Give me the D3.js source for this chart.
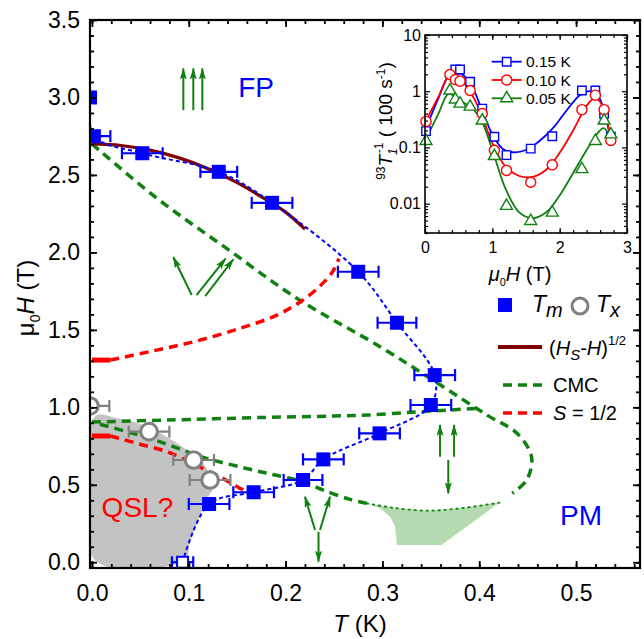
<!DOCTYPE html>
<html>
<head>
<meta charset="utf-8">
<script src="https://cdn.jsdelivr.net/npm/d3@7"></script>
<style>
  body { margin: 0; background: #fff; }
  svg text { font-family: "Liberation Sans", Arial, sans-serif; }
  .tick line { stroke: #000; stroke-width: 1.8; }
  .inset .tick line { stroke-width: 1.2; }
</style>
</head>
<body>
<svg id="chart" width="644" height="639"></svg>
<script>
// ---- main panel data (T in K, mu0H in T) ----
var tmT   = [-0.002, 0.002, 0.052, 0.131, 0.186, 0.275, 0.315, 0.354, 0.350, 0.297, 0.239, 0.218, 0.167, 0.121];
var tmH   = [3.00, 2.75, 2.64, 2.52, 2.32, 1.875, 1.546, 1.208, 1.015, 0.832, 0.664, 0.531, 0.452, 0.376];
var tmErr = [0, 0.017, 0.021, 0.019, 0.021, 0.021, 0.020, 0.021, 0.021, 0.021, 0.021, 0.020, 0.021, 0.021];
var tm0T = [0.0936], tm0H = [0.0], tm0Err = [0.011];   // open square, zero field

var txT   = [-0.002, 0.059, 0.105, 0.122];
var txH   = [1.009, 0.843, 0.660, 0.531];
var txErr = [0.020, 0.021, 0.021, 0.021];

var sqrtT = [0.000, 0.030, 0.060, 0.090, 0.120, 0.150, 0.180, 0.200, 0.220];
var sqrtH = [2.700, 2.690, 2.660, 2.610, 2.540, 2.450, 2.340, 2.260, 2.150];

var cmcUpT = [0.000, 0.067, 0.139, 0.215, 0.298, 0.360, 0.408, 0.439, 0.454, 0.449, 0.434];
var cmcUpH = [2.700, 2.350, 2.026, 1.690, 1.390, 1.144, 0.950, 0.832, 0.680, 0.531, 0.445];
var cmcLowT = [0.284, 0.2665, 0.239, 0.218, 0.189, 0.1667, 0.1185, 0.087, 0.060, 0.035, 0.000];
var cmcLowH = [0.380, 0.406, 0.466, 0.520, 0.563, 0.595, 0.671, 0.740, 0.800, 0.845, 0.905];
var cmcFlatT = [0.000, 0.077, 0.180, 0.250, 0.285, 0.330, 0.370, 0.400];
var cmcFlatH = [0.905, 0.918, 0.935, 0.944, 0.950, 0.968, 0.983, 0.994];
var cmcDotT = [0.284, 0.311, 0.346, 0.380, 0.421];
var cmcDotH = [0.380, 0.352, 0.333, 0.348, 0.385];

var halfUpT = [0.019, 0.060, 0.105, 0.153, 0.191, 0.215, 0.235, 0.248, 0.255];
var halfUpH = [1.305, 1.360, 1.423, 1.510, 1.595, 1.680, 1.780, 1.870, 1.960];
var halfLowT = [0.019, 0.028, 0.046, 0.077, 0.108, 0.132, 0.150, 0.165];
var halfLowH = [0.815, 0.800, 0.768, 0.714, 0.625, 0.552, 0.488, 0.440];

var qslT = [0.003, 0.026, 0.053, 0.077, 0.098, 0.115, 0.125, 0.118, 0.110, 0.101, 0.096, 0.003];
var qslH = [0.940, 0.929, 0.886, 0.810, 0.725, 0.639, 0.488, 0.402, 0.273, 0.123, 0.015, 0.015];

var pocketT = [0.284, 0.311, 0.346, 0.380, 0.421, 0.361, 0.315, 0.313, 0.308, 0.2975];
var pocketH = [0.380, 0.352, 0.333, 0.348, 0.385, 0.112, 0.112, 0.230, 0.294, 0.348];

// arrows: [T0, H0, T1, H1]
var arrows = [
  [0.0944, 2.918, 0.0944, 3.187], [0.1047, 2.918, 0.1047, 3.187], [0.1140, 2.918, 0.1140, 3.187],
  [0.103, 1.725, 0.084, 1.970], [0.108, 1.725, 0.138, 1.960], [0.117, 1.718, 0.146, 1.955],
  [0.2304, 0.208, 0.2200, 0.423], [0.2355, 0.208, 0.2459, 0.423], [0.234, 0.197, 0.234, 0.004],
  [0.3595, 0.681, 0.3595, 0.886], [0.374, 0.681, 0.374, 0.886], [0.368, 0.660, 0.368, 0.445]
];

var xMajor = [0, 0.1, 0.2, 0.3, 0.4, 0.5];
var yMajor = [0, 0.5, 1.0, 1.5, 2.0, 2.5, 3.0, 3.5];

// ---- inset data (mu0H in T, 93T1^-1 in 100 s^-1) ----
var insH = [0.015, 0.37, 0.45, 0.52, 0.67, 0.85, 1.03, 1.21, 1.57, 1.89, 2.33, 2.53, 2.66, 2.76];
var ins015 = [0.195, null, 2.43, 2.43, 1.47, 0.49, 0.155, 0.073, 0.095, 0.158, 1.03, 1.03, 0.395, 0.155];
var ins010 = [0.29, 1.98, 1.61, 1.51, 1.03, 0.40, 0.089, 0.039, 0.024, 0.049, 0.47, 0.85, 0.47, 0.133];
var ins005 = [0.13, 1.03, 0.71, 0.60, 0.53, 0.30, 0.070, 0.0091, 0.0049, 0.0069, 0.041, 0.13, 0.30, 0.17];

var fit015H = [0, 0.2, 0.35, 0.45, 0.55, 0.7, 0.85, 1.0, 1.15, 1.3, 1.5, 1.7, 1.9, 2.1, 2.3, 2.45, 2.55, 2.65, 2.75];
var fit015V = [0.2, 0.75, 1.9, 2.2, 2.0, 1.2, 0.45, 0.17, 0.095, 0.082, 0.09, 0.13, 0.22, 0.45, 0.85, 1.0, 0.9, 0.5, 0.15];
var fit010H = [0, 0.2, 0.35, 0.45, 0.6, 0.8, 1.0, 1.2, 1.4, 1.6, 1.8, 2.0, 2.2, 2.4, 2.52, 2.6, 2.7, 2.76];
var fit010V = [0.28, 0.8, 1.8, 1.7, 1.3, 0.5, 0.12, 0.045, 0.031, 0.03, 0.04, 0.08, 0.2, 0.55, 0.75, 0.65, 0.3, 0.15];
var fit005H = [0, 0.2, 0.35, 0.5, 0.7, 0.85, 1.0, 1.2, 1.4, 1.6, 1.8, 2.0, 2.2, 2.4, 2.55, 2.65, 2.75];
var fit005V = [0.13, 0.4, 0.9, 0.7, 0.5, 0.28, 0.09, 0.018, 0.007, 0.0055, 0.007, 0.014, 0.035, 0.09, 0.17, 0.22, 0.15];

var insXMajor = [0, 1, 2, 3];
var insYMajor = [0.01, 0.1, 1, 10];

var GREEN = '#108010', BLUE = '#0000ff', RED = '#ff0000', BROWN = '#800000', GREY = '#808080';

var svg = d3.select('#chart');

var x = d3.scaleLinear().domain([-0.002, 0.566]).range([90, 640]);
var y = d3.scaleLinear().domain([-0.037, 3.5]).range([568, 20]);

function zip(a, b) { return a.map(function(d, i) { return [d, b[i]]; }); }
function steps(a, b, s) { var r = []; for (var v = a; v <= b + 1e-9; v += s) r.push(+v.toFixed(4)); return r; }

var defs = svg.append('defs');
defs.append('clipPath').attr('id', 'clip')
  .append('rect').attr('x', 90).attr('y', 20).attr('width', 550).attr('height', 548);
defs.append('marker').attr('id', 'ah')
    .attr('viewBox', '0 0 12 7').attr('refX', 11).attr('refY', 3.5)
    .attr('markerWidth', 12).attr('markerHeight', 7)
    .attr('markerUnits', 'userSpaceOnUse').attr('orient', 'auto')
  .append('path').attr('d', 'M0,0 L12,3.5 L0,7 L2.5,3.5 z').attr('fill', GREEN);

var plot = svg.append('g').attr('clip-path', 'url(#clip)');

var line = d3.line().x(function(d) { return x(d[0]); }).y(function(d) { return y(d[1]); });
var smooth = d3.line().x(function(d) { return x(d[0]); }).y(function(d) { return y(d[1]); }).curve(d3.curveCatmullRom.alpha(0.5));

// shaded regions
plot.append('path').datum(zip(qslT, qslH))
  .attr('d', smooth.curve(d3.curveCatmullRomClosed.alpha(0.5)))
  .attr('fill', '#c3c3c3');
smooth.curve(d3.curveCatmullRom.alpha(0.5));
plot.append('path').datum(zip(pocketT, pocketH))
  .attr('d', line.curve(d3.curveLinearClosed))
  .attr('fill', '#b4dbb0');
line.curve(d3.curveLinear);

// CMC (green dashed)
[[cmcUpT, cmcUpH], [cmcLowT, cmcLowH], [cmcFlatT, cmcFlatH]].forEach(function(s) {
  plot.append('path').datum(zip(s[0], s[1])).attr('d', smooth)
    .attr('fill', 'none').attr('stroke', GREEN).attr('stroke-width', 3.5)
    .attr('stroke-dasharray', '9,6');
});
plot.append('path').datum(zip(cmcDotT, cmcDotH)).attr('d', smooth)
  .attr('fill', 'none').attr('stroke', GREEN).attr('stroke-width', 1.8)
  .attr('stroke-dasharray', '1.5,4.5').attr('stroke-linecap', 'round');

// S = 1/2 (red dashed) with a short solid piece at T -> 0
[[halfUpT, halfUpH], [halfLowT, halfLowH]].forEach(function(s) {
  plot.append('path').datum(zip(s[0], s[1])).attr('d', smooth)
    .attr('fill', 'none').attr('stroke', RED).attr('stroke-width', 3.5)
    .attr('stroke-dasharray', '9,6');
  plot.append('path').datum([[0, s[1][0]], [s[0][0], s[1][0]]]).attr('d', line)
    .attr('fill', 'none').attr('stroke', RED).attr('stroke-width', 5);
});

// (Hs-H)^1/2 (brown)
plot.append('path').datum(zip(sqrtT, sqrtH)).attr('d', smooth)
  .attr('fill', 'none').attr('stroke', BROWN).attr('stroke-width', 3.2);

// Tm guide (blue short dash)
var tmLine = zip(tmT, tmH).concat(zip(tm0T, tm0H));
plot.append('path').datum(tmLine).attr('d', smooth)
  .attr('fill', 'none').attr('stroke', BLUE).attr('stroke-width', 2)
  .attr('stroke-dasharray', '4,3');

// error bars
function errBars(T, Hs, E, col) {
  var g = plot.append('g').attr('stroke', col).attr('stroke-width', 2.2).attr('fill', 'none');
  T.forEach(function(t, i) {
    if (!E[i]) return;
    var yy = y(Hs[i]), x0 = x(t - E[i]), x1 = x(t + E[i]);
    g.append('line').attr('x1', x0).attr('x2', x1).attr('y1', yy).attr('y2', yy);
    g.append('line').attr('x1', x0).attr('x2', x0).attr('y1', yy - 6).attr('y2', yy + 6);
    g.append('line').attr('x1', x1).attr('x2', x1).attr('y1', yy - 6).attr('y2', yy + 6);
  });
}
errBars(txT, txH, txErr, GREY);
errBars(tmT, tmH, tmErr, BLUE);
errBars(tm0T, tm0H, tm0Err, BLUE);

plot.selectAll('circle.tx').data(zip(txT, txH)).enter().append('circle')
  .attr('cx', function(d) { return x(d[0]); }).attr('cy', function(d) { return y(d[1]); })
  .attr('r', 8.3).attr('fill', '#fff').attr('stroke', GREY).attr('stroke-width', 3);
plot.selectAll('rect.tm').data(zip(tmT, tmH)).enter().append('rect')
  .attr('x', function(d) { return x(d[0]) - 7; }).attr('y', function(d) { return y(d[1]) - 7; })
  .attr('width', 14).attr('height', 14).attr('fill', BLUE);
plot.selectAll('rect.tm0').data(zip(tm0T, tm0H)).enter().append('rect')
  .attr('x', function(d) { return x(d[0]) - 5.5; }).attr('y', function(d) { return y(d[1]) - 5.5; })
  .attr('width', 11).attr('height', 11).attr('fill', '#fff').attr('stroke', BLUE).attr('stroke-width', 2);

// arrows
svg.append('g').selectAll('line').data(arrows).enter().append('line')
  .attr('x1', function(d) { return x(d[0]); }).attr('y1', function(d) { return y(d[1]); })
  .attr('x2', function(d) { return x(d[2]); }).attr('y2', function(d) { return y(d[3]); })
  .attr('stroke', GREEN).attr('stroke-width', 2).attr('marker-end', 'url(#ah)');

// region labels
var regionLabels = [['FP', 0.151, 3.0, BLUE], ['PM', 0.4834, 0.24, BLUE], ['QSL?', 0.010, 0.292, RED]];
svg.selectAll('text.region').data(regionLabels).enter().append('text')
  .attr('x', function(d) { return x(d[1]); }).attr('y', function(d) { return y(d[2]); })
  .attr('fill', function(d) { return d[3]; }).attr('font-size', 28).text(function(d) { return d[0]; });

// ---- main axes ----
function drawAxis(axis, tx, ty) {
  var g = svg.append('g').attr('transform', 'translate(' + tx + ',' + ty + ')').call(axis);
  g.select('.domain').remove();
  g.selectAll('text').attr('font-family', '"Liberation Sans", Arial, sans-serif').attr('fill', '#000');
  return g;
}
var xMinor = steps(0, 0.56, 0.02), yMinor = steps(0, 3.5, 0.1);
drawAxis(d3.axisBottom(x).tickValues(xMajor).tickSize(-7).tickPadding(17).tickFormat(d3.format('.1f')), 0, 568)
  .selectAll('text').attr('font-size', 23);
drawAxis(d3.axisBottom(x).tickValues(xMinor).tickSize(-4).tickFormat(''), 0, 568);
drawAxis(d3.axisTop(x).tickValues(xMajor).tickSize(-7).tickFormat(''), 0, 20);
drawAxis(d3.axisTop(x).tickValues(xMinor).tickSize(-4).tickFormat(''), 0, 20);
drawAxis(d3.axisLeft(y).tickValues(yMajor).tickSize(-7).tickPadding(10).tickFormat(d3.format('.1f')), 90, 0)
  .selectAll('text').attr('font-size', 23);
drawAxis(d3.axisLeft(y).tickValues(yMinor).tickSize(-4).tickFormat(''), 90, 0);
drawAxis(d3.axisRight(y).tickValues(yMajor).tickSize(-7).tickFormat(''), 640, 0);
drawAxis(d3.axisRight(y).tickValues(yMinor).tickSize(-4).tickFormat(''), 640, 0);
svg.append('rect').attr('x', 90).attr('y', 20).attr('width', 550).attr('height', 548)
  .attr('fill', 'none').attr('stroke', '#000').attr('stroke-width', 2.2);

var xt = svg.append('text').attr('x', 360).attr('y', 632).attr('text-anchor', 'middle').attr('font-size', 24);
xt.append('tspan').attr('font-style', 'italic').text('T');
xt.append('tspan').text(' (K)');
var yt = svg.append('text').attr('transform', 'translate(34,298) rotate(-90)').attr('text-anchor', 'middle').attr('font-size', 24);
yt.append('tspan').text('\u03bc');
yt.append('tspan').attr('font-size', 14).attr('dy', 6).text('0');
yt.append('tspan').attr('font-style', 'italic').attr('dy', -6).text('H');
yt.append('tspan').text(' (T)');

// ---- main legend ----
var lg = svg.append('g').attr('font-size', 20);
lg.append('rect').attr('x', 498).attr('y', 298).attr('width', 14).attr('height', 14).attr('fill', BLUE);
var t1 = lg.append('text').attr('x', 532).attr('y', 312).attr('font-size', 23);
t1.append('tspan').attr('font-style', 'italic').text('T');
t1.append('tspan').attr('font-style', 'italic').attr('font-size', 20).attr('dy', 5).text('m');
lg.append('circle').attr('cx', 580).attr('cy', 306).attr('r', 8).attr('fill', '#fff').attr('stroke', GREY).attr('stroke-width', 3);
var t2 = lg.append('text').attr('x', 596).attr('y', 312).attr('font-size', 23);
t2.append('tspan').attr('font-style', 'italic').text('T');
t2.append('tspan').attr('font-style', 'italic').attr('font-size', 20).attr('dy', 5).text('x');

lg.append('line').attr('x1', 498).attr('x2', 542).attr('y1', 347).attr('y2', 347).attr('stroke', BROWN).attr('stroke-width', 4);
var t3 = lg.append('text').attr('x', 549).attr('y', 355);
t3.append('tspan').text('(');
t3.append('tspan').attr('font-style', 'italic').text('H');
t3.append('tspan').attr('font-style', 'italic').attr('font-size', 15).attr('dy', 5).text('S');
t3.append('tspan').attr('dy', -5).text('-');
t3.append('tspan').attr('font-style', 'italic').text('H');
t3.append('tspan').text(')');
t3.append('tspan').attr('font-size', 13).attr('dy', -10).text('1/2');

lg.append('line').attr('x1', 503).attr('x2', 542).attr('y1', 385).attr('y2', 385).attr('stroke', GREEN).attr('stroke-width', 3.5).attr('stroke-dasharray', '9,6');
lg.append('text').attr('x', 553).attr('y', 392).text('CMC');
lg.append('line').attr('x1', 503).attr('x2', 542).attr('y1', 413).attr('y2', 413).attr('stroke', RED).attr('stroke-width', 3.5).attr('stroke-dasharray', '9,6');
var t4 = lg.append('text').attr('x', 553).attr('y', 420);
t4.append('tspan').attr('font-style', 'italic').text('S');
t4.append('tspan').text(' = 1/2');

// ---- inset ----
var xi = d3.scaleLinear().domain([0, 3]).range([425, 627]);
var yi = d3.scaleLog().domain([0.003, 10]).range([233, 35]);
var inset = svg.append('g').attr('class', 'inset');
inset.append('rect').attr('x', 425).attr('y', 35).attr('width', 202).attr('height', 198).attr('fill', '#fff');

var insSeries = [
  {v: ins015, fh: fit015H, fv: fit015V, col: BLUE, sym: d3.symbolSquare, size: 72, name: '0.15 K'},
  {v: ins010, fh: fit010H, fv: fit010V, col: RED, sym: d3.symbolCircle, size: 80, name: '0.10 K'},
  {v: ins005, fh: fit005H, fv: fit005V, col: GREEN, sym: d3.symbolTriangle, size: 62, name: '0.05 K'}
];
var iline = d3.line().x(function(d) { return xi(d[0]); }).y(function(d) { return yi(d[1]); })
  .curve(d3.curveCatmullRom.alpha(0.5));
insSeries.forEach(function(s) {
  inset.append('path').datum(zip(s.fh, s.fv)).attr('d', iline)
    .attr('fill', 'none').attr('stroke', s.col).attr('stroke-width', 1.8);
});
insSeries.forEach(function(s) {
  var pts = zip(insH, s.v).filter(function(d) { return d[1] != null; });
  inset.selectAll(null).data(pts).enter().append('path')
    .attr('transform', function(d) { return 'translate(' + xi(d[0]) + ',' + yi(d[1]) + ')'; })
    .attr('d', d3.symbol().type(s.sym).size(s.size))
    .attr('fill', '#fff').attr('stroke', s.col).attr('stroke-width', 1.4);
});
insSeries.forEach(function(s, i) {
  var ly = 61.7 + i * 18.3;
  inset.append('line').attr('x1', 491.7).attr('x2', 521.7).attr('y1', ly).attr('y2', ly)
    .attr('stroke', s.col).attr('stroke-width', 1.8);
  inset.append('path').attr('transform', 'translate(506.7,' + ly + ')')
    .attr('d', d3.symbol().type(s.sym).size(s.size))
    .attr('fill', '#fff').attr('stroke', s.col).attr('stroke-width', 1.4);
  inset.append('text').attr('x', 526).attr('y', ly + 5.5).attr('font-size', 15.5).text(s.name);
});

var insXMinor = steps(0, 3, 0.2);
var insYMinor = [];
[0.001, 0.01, 0.1, 1].forEach(function(dec) {
  for (var k = 2; k <= 9; k++) { var v = dec * k; if (v >= 0.003 && v <= 10) insYMinor.push(v); }
});
function drawInsAxis(axis, tx, ty) {
  var g = inset.append('g').attr('transform', 'translate(' + tx + ',' + ty + ')').call(axis);
  g.select('.domain').remove();
  g.selectAll('text').attr('font-family', '"Liberation Sans", Arial, sans-serif').attr('fill', '#000').attr('font-size', 16);
  return g;
}
drawInsAxis(d3.axisBottom(xi).tickValues(insXMajor).tickSize(-5).tickPadding(9).tickFormat(d3.format('d')), 0, 233);
drawInsAxis(d3.axisBottom(xi).tickValues(insXMinor).tickSize(-3).tickFormat(''), 0, 233);
drawInsAxis(d3.axisTop(xi).tickValues(insXMajor).tickSize(-5).tickFormat(''), 0, 35);
drawInsAxis(d3.axisTop(xi).tickValues(insXMinor).tickSize(-3).tickFormat(''), 0, 35);
drawInsAxis(d3.axisLeft(yi).tickValues(insYMajor).tickSize(-5).tickPadding(4).tickFormat(function(d) { return String(d); }), 425, 0);
drawInsAxis(d3.axisLeft(yi).tickValues(insYMinor).tickSize(-3).tickFormat(''), 425, 0);
drawInsAxis(d3.axisRight(yi).tickValues(insYMajor).tickSize(-5).tickFormat(''), 627, 0);
drawInsAxis(d3.axisRight(yi).tickValues(insYMinor).tickSize(-3).tickFormat(''), 627, 0);
inset.append('rect').attr('x', 425).attr('y', 35).attr('width', 202).attr('height', 198)
  .attr('fill', 'none').attr('stroke', '#000').attr('stroke-width', 1.6);

var ixt = inset.append('text').attr('x', 520).attr('y', 281).attr('text-anchor', 'middle').attr('font-size', 20);
ixt.append('tspan').attr('font-style', 'italic').text('\u03bc');
ixt.append('tspan').attr('font-size', 11).attr('dy', 5).text('0');
ixt.append('tspan').attr('font-style', 'italic').attr('dy', -5).text('H');
ixt.append('tspan').text(' (T)');
var iyt = inset.append('text').attr('transform', 'translate(392,121) rotate(-90)').attr('text-anchor', 'middle').attr('font-size', 19);
iyt.append('tspan').attr('font-size', 12).attr('dy', -7).text('93');
iyt.append('tspan').attr('font-style', 'italic').attr('dy', 7).text('T');
iyt.append('tspan').attr('font-style', 'italic').attr('font-size', 12).attr('dy', 5).text('1');
iyt.append('tspan').attr('font-size', 12).attr('dx', -5).attr('dy', -14).text('-1');
iyt.append('tspan').attr('dy', 9).text(' ( 100 s');
iyt.append('tspan').attr('font-size', 12).attr('dy', -7).text('-1');
iyt.append('tspan').attr('dy', 7).text(')');
</script>
</body>
</html>
